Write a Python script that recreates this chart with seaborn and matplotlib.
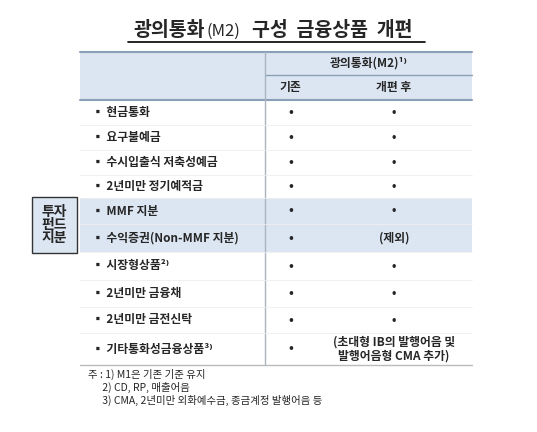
import matplotlib
matplotlib.use("Agg")
import matplotlib.pyplot as plt
import seaborn as sns
from matplotlib.patches import Rectangle

sns.set_theme(style="white")
plt.rcParams['font.family'] = ['Noto Sans CJK KR', 'DejaVu Sans']

title_a = "광의통화"
title_b = "(M2)"
title_c = "구성  금융상품  개편"
header_top = "광의통화(M2)¹⁾"
header_cols = ["기존", "개편 후"]
items = ["▪ 현금통화", "▪ 요구불예금", "▪ 수시입출식 저축성예금", "▪ 2년미만 정기예적금",
         "▪ MMF 지분", "▪ 수익증권(Non-MMF 지분)", "▪ 시장형상품²⁾", "▪ 2년미만 금융채",
         "▪ 2년미만 금전신탁", "▪ 기타통화성금융상품³⁾"]
old_vals = ["•"] * 10
new_vals = ["•", "•", "•", "•", "•", "(제외)", "•", "•", "•", "(초대형 IB의 발행어음 및\n발행어음형 CMA 추가)"]
shaded = [False, False, False, False, True, True, False, False, False, False]
group_label = "투자\n펀드\n지분"
notes = ["주 : 1) M1은 기존 기준 유지", "      2) CD, RP, 매출어음", "      3) CMA, 2년미만 외화예수금, 종금계정 발행어음 등"]

fig = plt.figure(figsize=(5.37, 4.32), dpi=100)
ax = fig.add_axes([0, 0, 1, 1])
ax.set_xlim(0, 537); ax.set_ylim(432, 0); ax.axis("off")

blue = "#dce6f2"
x0, xa, xb, x1 = 80, 265, 316, 472
row_edges = [100, 125, 150, 175, 198, 224, 252, 280, 307, 333, 365]

ax.text(205, 30, title_a, ha="right", va="center", fontsize=14, fontweight="bold")
ax.text(206, 31, title_b, ha="left", va="center", fontsize=12)
ax.text(252, 30, title_c, ha="left", va="center", fontsize=14, fontweight="bold")
ax.plot([128, 425], [42, 42], color="black", lw=1.2)

ax.add_patch(Rectangle((x0, 52), x1 - x0, 48, color=blue, lw=0))
for i, s in enumerate(shaded):
    if s:
        ax.add_patch(Rectangle((x0, row_edges[i]), x1 - x0, row_edges[i+1] - row_edges[i], color=blue, lw=0))
ax.plot([x0, x1], [52, 52], color="#8aa0b8", lw=1.5)
ax.plot([xa, x1], [75, 75], color="#8aa0b8", lw=1)
ax.plot([x0, x1], [100, 100], color="#8aa0b8", lw=1.5)
ax.plot([x0, x1], [365, 365], color="#bbbbbb", lw=1)
ax.plot([xa, xa], [52, 365], color="#aab4c0", lw=1)
for y in row_edges[1:-1]:
    ax.plot([x0, x1], [y, y], color="#eeeeee", lw=0.6)

ax.text((xa + x1) / 2, 63, header_top, ha="center", va="center", fontsize=8.5, fontweight="bold")
ax.text((xa + xb) / 2, 88, header_cols[0], ha="center", va="center", fontsize=8.5, fontweight="bold")
ax.text((xb + x1) / 2, 88, header_cols[1], ha="center", va="center", fontsize=8.5, fontweight="bold")

for i in range(len(items)):
    yc = (row_edges[i] + row_edges[i+1]) / 2
    ax.text(92, yc, items[i], ha="left", va="center", fontsize=8.5, fontweight="bold")
    ax.text((xa + xb) / 2, yc, old_vals[i], ha="center", va="center", fontsize=9, fontweight="bold")
    ax.text((xb + x1) / 2, yc, new_vals[i], ha="center", va="center", fontsize=8.5,
            fontweight="bold", linespacing=1.1)

ax.add_patch(Rectangle((32, 197), 45, 56, facecolor=blue, edgecolor="#333333", lw=1))
ax.text(54.5, 225, group_label, ha="center", va="center", fontsize=10, fontweight="bold", linespacing=0.95)

for k, n in enumerate(notes):
    ax.text(88, 374 + k * 13, n, ha="left", va="center", fontsize=7.5)

fig.savefig("out.png", dpi=100)
